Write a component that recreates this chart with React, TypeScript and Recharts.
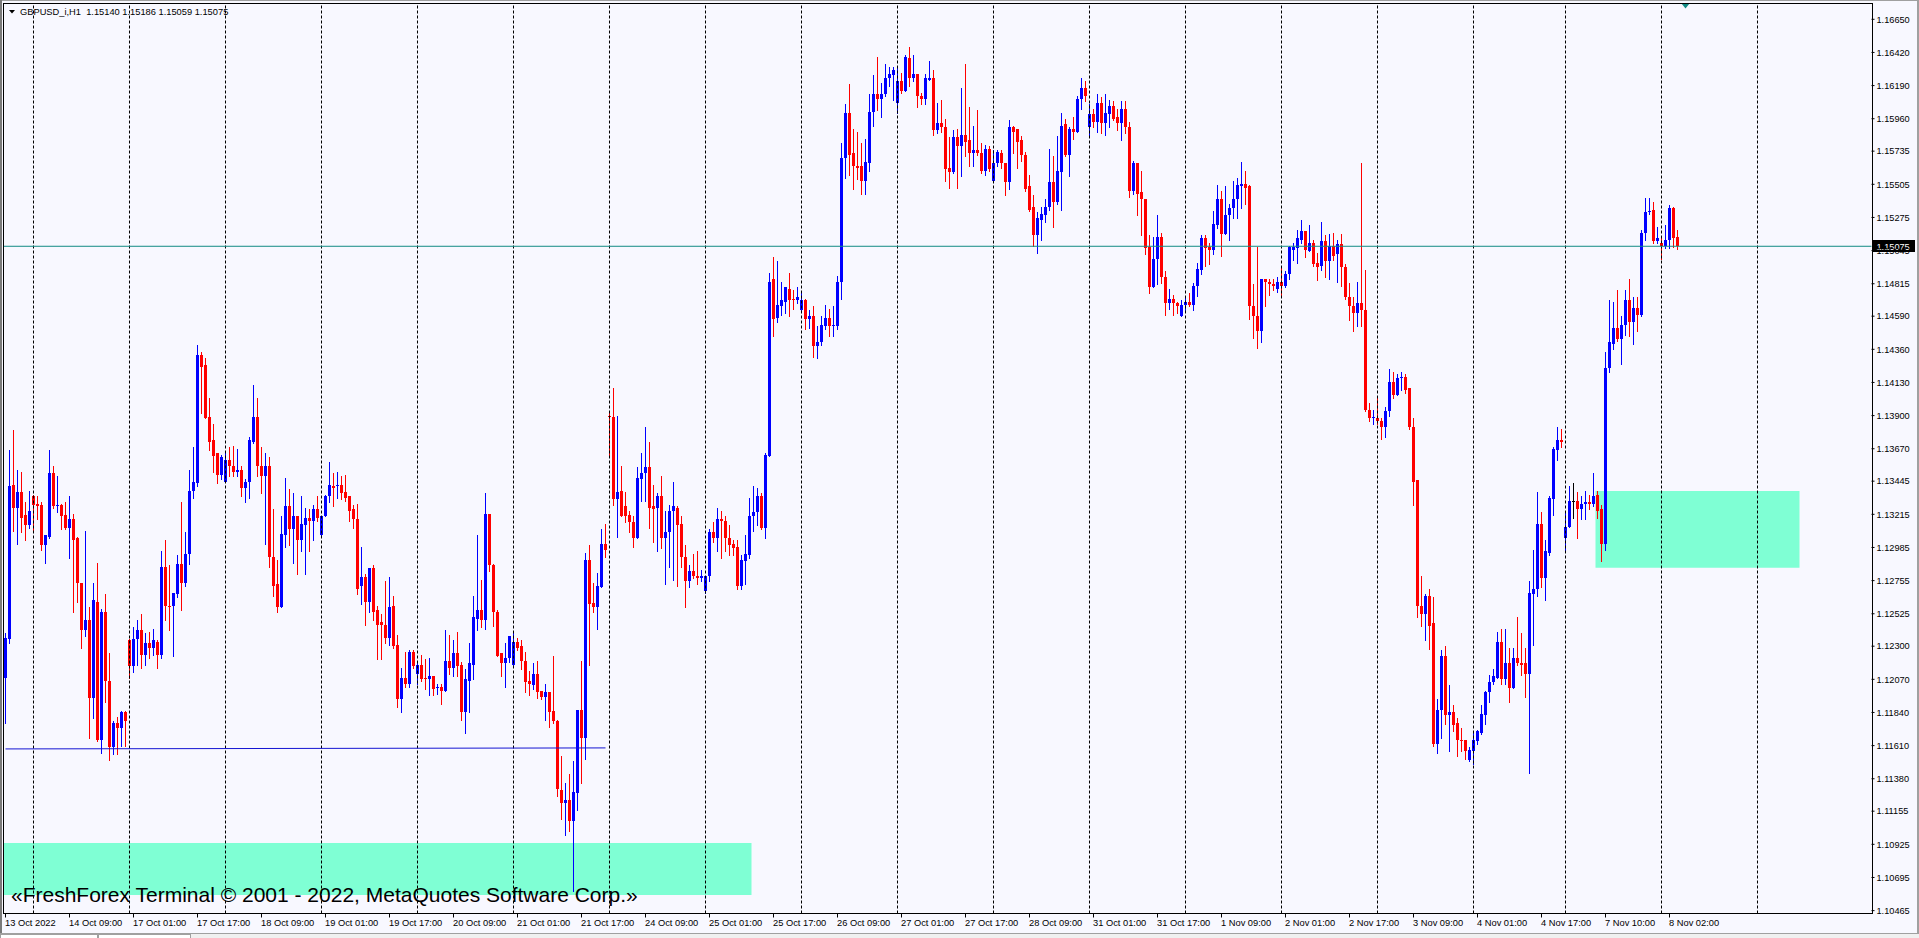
import React from "react";
import { ComposedChart, Bar, XAxis, YAxis, ReferenceLine, ReferenceArea, ReferenceDot } from "recharts";

// GBPUSD_i H1 candles, prices in 1e-4 units (11508 = 1.15080)
const OPEN = [
  11208,11235,11342,11326,11337,11321,11314,11334,11329,11328,11300,11306,11350,11327,11328,11321,11312,11318,11305,11274,
  11241,11248,11194,11261,11165,11254,11206,11160,11177,11173,11184,11234,11216,11235,11241,11224,11232,11229,11233,11224,
  11285,11258,11258,11266,11287,11274,11294,11338,11343,11432,11425,11389,11373,11364,11349,11344,11359,11355,11351,11352,
  11340,11344,11372,11389,11355,11348,11355,11292,11273,11257,11307,11327,11311,11320,11304,11314,11319,11317,11325,11307,
  11320,11334,11341,11341,11342,11337,11334,11325,11318,11272,11278,11261,11284,11255,11247,11245,11236,11258,11231,11193,
  11208,11204,11226,11211,11217,11208,11207,11209,11201,11202,11199,11220,11215,11225,11217,11184,11206,11217,11249,11255,
  11248,11322,11286,11254,11225,11218,11222,11217,11233,11230,11220,11206,11203,11211,11199,11195,11198,11185,11178,11130,
  11121,11123,11109,11128,11186,11166,11290,11260,11257,11271,11301,11390,11389,11332,11338,11327,11321,11316,11305,11346,
  11350,11354,11327,11326,11334,11305,11309,11324,11326,11315,11292,11275,11282,11279,11277,11268,11279,11309,11305,11318,
  11317,11305,11301,11299,11272,11289,11293,11320,11323,11334,11312,11362,11485,11458,11466,11469,11478,11471,11470,11463,
  11470,11457,11459,11438,11441,11452,11458,11452,11452,11483,11569,11600,11572,11563,11563,11553,11565,11601,11613,11610,
  11613,11624,11626,11607,11622,11615,11638,11624,11627,11612,11610,11623,11624,11588,11593,11590,11562,11559,11583,11577,
  11585,11581,11572,11574,11572,11560,11575,11553,11565,11572,11565,11552,11590,11589,11581,11571,11549,11535,11515,11526,
  11529,11535,11552,11538,11559,11592,11571,11589,11587,11610,11617,11590,11599,11594,11607,11593,11599,11605,11597,11593,
  11603,11590,11546,11565,11545,11540,11507,11479,11499,11514,11486,11468,11471,11468,11459,11467,11469,11467,11480,11491,
  11513,11507,11505,11522,11540,11516,11529,11534,11540,11549,11551,11549,11466,11459,11449,11485,11483,11481,11478,11483,
  11480,11488,11505,11506,11512,11518,11504,11510,11496,11494,11511,11497,11508,11502,11509,11493,11472,11466,11461,11468,
  11463,11394,11388,11388,11386,11382,11393,11413,11404,11416,11417,11409,11382,11345,11258,11252,11265,11246,11162,11186,
  11223,11182,11184,11177,11165,11165,11151,11157,11164,11170,11182,11198,11205,11208,11233,11207,11218,11201,11222,11218,
  11218,11211,11266,11270,11315,11277,11295,11332,11366,11373,11305,11313,11331,11331,11325,11329,11330,11329,11335,11325,
  11301,11423,11440,11451,11443,11453,11470,11455,11465,11460,11517,11531,11533,11511,11510,11508,11512,11534,11514,
];
const HIGH = [
  11239,11366,11380,11352,11351,11330,11338,11335,11334,11330,11307,11366,11355,11348,11329,11330,11334,11322,11306,11274,
  11310,11257,11274,11288,11256,11266,11225,11178,11181,11185,11185,11235,11243,11248,11252,11239,11240,11242,11234,11296,
  11304,11286,11267,11293,11330,11309,11352,11368,11439,11434,11430,11402,11384,11364,11363,11365,11368,11369,11367,11355,
  11346,11375,11411,11402,11368,11364,11361,11325,11290,11320,11347,11339,11336,11320,11334,11326,11325,11328,11334,11320,
  11335,11358,11350,11351,11348,11349,11334,11328,11329,11299,11280,11284,11286,11258,11252,11275,11278,11265,11238,11215,
  11226,11227,11227,11220,11224,11221,11222,11209,11204,11204,11241,11238,11234,11240,11219,11214,11232,11265,11307,11276,
  11336,11322,11287,11255,11225,11232,11237,11239,11236,11234,11226,11213,11218,11220,11199,11204,11198,11223,11179,11154,
  11135,11141,11150,11186,11220,11295,11300,11274,11281,11311,11315,11393,11409,11390,11355,11337,11324,11320,11354,11364,
  11382,11372,11342,11336,11348,11324,11328,11344,11327,11320,11300,11286,11294,11296,11283,11279,11311,11316,11326,11324,
  11320,11314,11304,11304,11293,11307,11333,11341,11340,11336,11364,11489,11500,11497,11483,11479,11489,11477,11479,11476,
  11471,11463,11466,11452,11459,11467,11464,11466,11487,11579,11606,11620,11589,11587,11579,11582,11613,11626,11639,11621,
  11634,11632,11632,11631,11628,11640,11646,11640,11627,11614,11627,11636,11630,11607,11609,11596,11583,11588,11589,11617,
  11634,11604,11591,11602,11579,11578,11577,11574,11574,11574,11565,11595,11591,11589,11584,11573,11557,11543,11531,11535,
  11540,11575,11570,11584,11600,11596,11590,11597,11612,11624,11622,11606,11603,11613,11611,11613,11609,11608,11603,11608,
  11608,11594,11567,11565,11560,11540,11515,11514,11529,11517,11490,11478,11474,11469,11470,11472,11475,11482,11496,11515,
  11515,11510,11532,11550,11546,11549,11537,11553,11555,11566,11560,11550,11481,11507,11485,11485,11485,11485,11486,11493,
  11490,11508,11510,11519,11526,11518,11522,11512,11503,11524,11515,11516,11517,11512,11516,11495,11482,11472,11483,11565,
  11491,11399,11394,11402,11388,11396,11422,11420,11419,11420,11419,11409,11388,11345,11279,11266,11270,11264,11193,11227,
  11230,11203,11189,11180,11173,11165,11160,11171,11172,11189,11199,11210,11214,11240,11242,11242,11229,11229,11250,11239,
  11229,11275,11297,11337,11323,11304,11334,11368,11382,11381,11323,11341,11343,11337,11334,11338,11335,11350,11338,11328,
  11434,11470,11469,11477,11459,11477,11485,11472,11472,11519,11541,11541,11538,11521,11514,11522,11536,11535,11518.6,
];
const LOW = [
  11177,11232,11310,11301,11309,11304,11312,11310,11318,11297,11288,11305,11326,11323,11311,11311,11291,11254,11261,11229,
  11237,11166,11180,11164,11156,11191,11151,11155,11155,11161,11161,11208,11212,11217,11215,11217,11222,11224,11215,11222,
  11248,11241,11223,11264,11255,11272,11287,11333,11341,11392,11388,11366,11351,11343,11346,11344,11348,11348,11348,11334,
  11330,11333,11371,11348,11336,11301,11285,11265,11254,11257,11299,11300,11288,11280,11296,11280,11296,11304,11317,11307,
  11320,11330,11327,11333,11332,11331,11317,11312,11266,11259,11245,11254,11248,11221,11221,11232,11231,11229,11188,11184,
  11202,11202,11215,11204,11206,11200,11196,11196,11197,11190,11199,11211,11209,11209,11179,11170,11184,11207,11241,11243,
  11242,11282,11244,11223,11209,11202,11219,11217,11227,11214,11198,11196,11200,11194,11193,11179,11174,11177,11126,11110,
  11099,11102,11060,11116,11135,11152,11217,11254,11242,11271,11292,11362,11328,11306,11320,11316,11309,11299,11305,11331,
  11331,11312,11302,11296,11298,11273,11285,11276,11272,11285,11257,11271,11277,11273,11275,11267,11275,11302,11296,11291,
  11296,11293,11293,11270,11270,11273,11291,11310,11314,11311,11305,11362,11445,11455,11460,11461,11459,11464,11468,11463,
  11450,11451,11431,11430,11439,11450,11445,11445,11450,11471,11555,11557,11547,11554,11544,11544,11560,11591,11602,11597,
  11612,11619,11609,11600,11614,11615,11619,11622,11604,11606,11606,11623,11585,11586,11587,11553,11548,11558,11548,11556,
  11570,11563,11563,11571,11558,11557,11560,11553,11563,11562,11543,11547,11572,11562,11567,11546,11532,11508,11503,11512,
  11524,11533,11521,11537,11533,11570,11556,11582,11587,11603,11608,11583,11590,11587,11586,11585,11590,11595,11588,11581,
  11586,11542,11544,11529,11515,11502,11475,11479,11481,11482,11460,11464,11460,11461,11459,11462,11466,11463,11473,11488,
  11494,11495,11502,11520,11501,11516,11512,11527,11527,11534,11537,11457,11444,11437,11441,11466,11474,11477,11476,11472,
  11479,11485,11498,11496,11510,11500,11504,11494,11484,11491,11486,11485,11498,11483,11480,11471,11456,11449,11452,11452,
  11393,11386,11384,11384,11374,11375,11390,11402,11404,11408,11406,11381,11328,11250,11244,11234,11228,11161,11156,11166,
  11176,11157,11171,11154,11157,11152,11150,11148,11162,11169,11176,11191,11204,11208,11204,11204,11191,11201,11217,11210,
  11195,11142,11231,11265,11271,11262,11293,11321,11359,11368,11296,11313,11319,11305,11318,11318,11325,11327,11319,11289,
  11297,11420,11436,11442,11426,11446,11445,11440,11449,11459,11512,11530,11510,11510,11499,11506,11506,11507,11505.9,
];
const CLOSE = [
  11236,11341,11326,11337,11319,11314,11324,11328,11327,11300,11307,11350,11327,11328,11320,11312,11318,11304,11274,11241,
  11248,11194,11262,11165,11254,11206,11160,11177,11173,11184,11178,11216,11235,11241,11224,11232,11229,11234,11224,11285,
  11258,11257,11267,11287,11274,11294,11338,11344,11432,11424,11388,11372,11362,11349,11361,11359,11355,11351,11352,11340,
  11344,11373,11389,11355,11348,11355,11292,11272,11257,11308,11327,11311,11320,11304,11315,11319,11317,11325,11319,11320,
  11334,11342,11340,11342,11336,11333,11324,11318,11270,11278,11261,11284,11254,11245,11245,11236,11257,11230,11193,11208,
  11204,11226,11216,11217,11207,11207,11209,11200,11202,11199,11220,11215,11225,11216,11184,11207,11218,11250,11255,11248,
  11322,11286,11254,11223,11218,11222,11237,11233,11229,11220,11205,11204,11211,11198,11195,11198,11184,11178,11131,11121,
  11123,11109,11129,11186,11166,11290,11259,11257,11272,11301,11297,11389,11332,11337,11320,11320,11316,11305,11347,11350,
  11354,11326,11325,11334,11305,11309,11324,11327,11314,11292,11275,11282,11279,11277,11279,11279,11309,11305,11318,11317,
  11305,11300,11298,11272,11290,11294,11320,11323,11334,11312,11363,11483,11457,11467,11470,11479,11470,11470,11472,11470,
  11457,11459,11438,11441,11453,11458,11452,11453,11483,11569,11600,11571,11563,11562,11553,11566,11601,11613,11610,11613,
  11624,11627,11630,11622,11615,11639,11624,11627,11612,11610,11624,11624,11588,11593,11590,11561,11559,11583,11577,11585,
  11580,11572,11574,11572,11560,11575,11561,11565,11573,11565,11552,11590,11587,11580,11571,11547,11533,11515,11527,11530,
  11535,11552,11538,11560,11591,11571,11589,11587,11610,11617,11612,11599,11594,11607,11593,11600,11605,11596,11593,11603,
  11590,11546,11565,11544,11540,11506,11479,11499,11514,11486,11468,11471,11468,11466,11467,11469,11467,11480,11492,11513,
  11506,11505,11523,11540,11516,11529,11534,11540,11550,11551,11548,11466,11459,11449,11485,11483,11481,11480,11483,11480,
  11488,11507,11507,11513,11518,11505,11510,11495,11493,11511,11497,11508,11501,11509,11493,11472,11466,11461,11468,11463,
  11394,11388,11389,11386,11382,11393,11413,11404,11416,11417,11408,11382,11344,11258,11252,11265,11244,11162,11186,11223,
  11182,11184,11175,11165,11164,11157,11158,11165,11171,11183,11198,11205,11209,11233,11207,11218,11201,11222,11218,11217,
  11211,11267,11270,11315,11277,11296,11333,11367,11373,11372,11313,11331,11331,11325,11329,11330,11329,11334,11324,11301,
  11423,11441,11451,11443,11453,11470,11455,11465,11460,11517,11531,11532,11511,11513,11508,11512,11534,11513,11507.5,
];

const TIME_LABELS = [
  "13 Oct 2022", "14 Oct 09:00", "17 Oct 01:00", "17 Oct 17:00", "18 Oct 09:00", "19 Oct 01:00", "19 Oct 17:00",
  "20 Oct 09:00", "21 Oct 01:00", "21 Oct 17:00", "24 Oct 09:00", "25 Oct 01:00", "25 Oct 17:00", "26 Oct 09:00",
  "27 Oct 01:00", "27 Oct 17:00", "28 Oct 09:00", "31 Oct 01:00", "31 Oct 17:00", "1 Nov 09:00", "2 Nov 01:00",
  "2 Nov 17:00", "3 Nov 09:00", "4 Nov 01:00", "4 Nov 17:00", "7 Nov 10:00", "8 Nov 02:00",
];
const LABEL_BARS = [0, 16, 32, 48, 64, 80, 96, 112, 128, 144, 160, 176, 192, 208, 224, 240, 256, 272, 288, 304, 320, 336, 352, 368, 384, 400, 416];
const GRID_BARS = [7, 31, 55, 79, 103, 127, 151, 175, 199, 223, 247, 271, 295, 319, 343, 367, 390, 414, 438];
const Y_TICKS = [
  1.1665, 1.1642, 1.1619, 1.1596, 1.15735, 1.15505, 1.15275, 1.15045, 1.14815, 1.1459, 1.1436, 1.1413, 1.139, 1.1367,
  1.13445, 1.13215, 1.12985, 1.12755, 1.12525, 1.123, 1.1207, 1.1184, 1.1161, 1.1138, 1.11155, 1.10925, 1.10695, 1.10465,
];
const SLOTS = 467;
const Y_MIN = 1.10445;
const Y_MAX = 1.167596;
const SUPPORT_LINE = [{ x: 0, y: 1.11587 }, { x: 150, y: 1.11594 }];
const ZONE_LOW = { x2: 186, y1: 1.10574, y2: 1.10935 };
const ZONE_HIGH = { x1: 398, x2: 448, y1: 1.12845, y2: 1.13377 };
const SHIFT_MARK_BAR = 420;

const FONT = '"Liberation Sans", Arial, sans-serif';
const BG = "#F8F8FF";
const UP = "#0000FF";
const DOWN = "#FF0000";
const TEAL = "#128A84";
const AQUA = "#7FFFD4";

const LAST = OPEN.length - 1;
const LAST_PRICE = CLOSE[LAST] / 1e4;

const rows = Array.from({ length: SLOTS }, (_, i) =>
  i < OPEN.length
    ? { i, o: OPEN[i] / 1e4, h: HIGH[i] / 1e4, l: LOW[i] / 1e4, c: CLOSE[i] / 1e4, range: [LOW[i] / 1e4, HIGH[i] / 1e4] }
    : { i, range: null }
);

const Candle = (props: any) => {
  const { x, y, width, height, payload } = props;
  if (!payload || payload.o == null || !isFinite(y) || !isFinite(height)) return <g />;
  const { o, h, l, c } = payload;
  const top = Math.min(y, y + height);
  const hh = Math.abs(height);
  const k = h - l > 0 ? hh / (h - l) : 0;
  const cx = Math.round(x + width / 2 - 0.5);
  const color = c > o ? UP : c < o ? DOWN : "#000";
  const wTop = Math.round(top);
  const wBot = Math.max(Math.round(top + hh), wTop + 1);
  const bTop = Math.round(top + (h - Math.max(o, c)) * k);
  let bBot = Math.round(top + (h - Math.min(o, c)) * k);
  if (bBot - bTop < 1) bBot = bTop + 1;
  return (
    <g>
      <rect x={cx} y={wTop} width={1} height={wBot - wTop + 1} fill={color} shapeRendering="crispEdges" />
      <rect x={cx - 1} y={bTop} width={3} height={bBot - bTop} fill={color} shapeRendering="crispEdges" />
    </g>
  );
};

const XTick = (props: any) => {
  const { x, y, payload } = props;
  const idx = LABEL_BARS.indexOf(payload.value);
  if (idx < 0) return <g />;
  return (
    <text x={x - 0.5} y={y} dy={6.6} fontSize={9.3} fontFamily={FONT} fill="#000" textAnchor="start">
      {TIME_LABELS[idx]}
    </text>
  );
};

const YTick = (props: any) => {
  const { x, y, payload } = props;
  return (
    <text x={x} y={y} dy={3.3} fontSize={9.2} fontFamily={FONT} fill="#000" textAnchor="start">
      {Number(payload.value).toFixed(5)}
    </text>
  );
};

const PriceTag = (props: any) => {
  const vb = props.viewBox || {};
  const right = (vb.x || 0) + (vb.width || 0);
  const yy = vb.y || 0;
  return (
    <g>
      <rect x={right + 0.5} y={Math.round(yy) - 6} width={43} height={12} fill="#000" />
      <text x={right + 5} y={yy} dy={3.3} fontSize={9.2} fontFamily={FONT} fill="#fff" textAnchor="start">
        {LAST_PRICE.toFixed(5)}
      </text>
    </g>
  );
};

const ShiftMark = (props: any) => {
  const { cx, cy } = props;
  if (!isFinite(cx)) return <g />;
  return <polygon points={`${cx - 4},${cy} ${cx + 4},${cy} ${cx},${cy + 5}`} fill={TEAL} />;
};

export default function App() {
  const title = `GBPUSD_i,H1  ${(OPEN[LAST] / 1e4).toFixed(5)} ${(HIGH[LAST] / 1e4).toFixed(5)} ${(LOW[LAST] / 1e4).toFixed(5)} ${(CLOSE[LAST] / 1e4).toFixed(5)}`;
  return (
    <div style={{ position: "absolute", left: 0, top: 0, width: 1919, height: 938, background: BG, overflow: "hidden", fontFamily: FONT }}>
      <ComposedChart
        width={1919}
        height={938}
        data={rows}
        margin={{ top: 3.5, right: 0, bottom: 0, left: 3.5 }}
        barCategoryGap={0}
        barGap={0}
      >
        <XAxis
          dataKey="i"
          type="category"
          ticks={LABEL_BARS}
          interval={0}
          height={24.5}
          axisLine={false}
          tickSize={4}
          tickLine={{ stroke: "#000" }}
          tick={(p: any) => <XTick {...p} />}
        />
        <YAxis
          orientation="right"
          type="number"
          domain={[Y_MIN, Y_MAX]}
          allowDataOverflow
          ticks={Y_TICKS}
          interval={0}
          width={47.5}
          axisLine={false}
          tickSize={3}
          tickLine={{ stroke: "#000" }}
          tick={(p: any) => <YTick {...p} />}
        />
        <ReferenceArea x2={ZONE_LOW.x2} y1={ZONE_LOW.y1} y2={ZONE_LOW.y2} fill={AQUA} fillOpacity={1} stroke="none" />
        <ReferenceArea x1={ZONE_HIGH.x1} x2={ZONE_HIGH.x2} y1={ZONE_HIGH.y1} y2={ZONE_HIGH.y2} fill={AQUA} fillOpacity={1} stroke="none" />
        {GRID_BARS.map((b) => (
          <ReferenceLine key={"g" + b} x={b} stroke="#000" strokeWidth={1} strokeDasharray="3 2" />
        ))}
        <ReferenceLine segment={SUPPORT_LINE} stroke="#1414D2" strokeWidth={1} ifOverflow="visible" />
        <Bar dataKey="range" isAnimationActive={false} shape={(p: any) => <Candle {...p} />} />
        <ReferenceLine y={LAST_PRICE} stroke={TEAL} strokeWidth={1} label={(p: any) => <PriceTag {...p} />} />
        <ReferenceDot x={SHIFT_MARK_BAR} y={Y_MAX} r={4} shape={(p: any) => <ShiftMark {...p} />} ifOverflow="visible" />
      </ComposedChart>
      <svg width={1919} height={938} style={{ position: "absolute", left: 0, top: 0, pointerEvents: "none" }}>
        <rect x={3.5} y={3.5} width={1869} height={910} fill="none" stroke="#000" strokeWidth={1} />
        <polygon points="9,10 15,10 12,13.5" fill="#000" />
        <text x={20} y={15} fontSize={9.3} fontFamily={FONT} fill="#000" style={{ whiteSpace: "pre" }}>
          {title}
        </text>
        <text x={11} y={902} fontSize={21} fontFamily={FONT} fill="#000">
          «FreshForex Terminal © 2001 - 2022, MetaQuotes Software Corp.»
        </text>
        <rect x={0} y={0} width={1919} height={1} fill="#A0A0A0" />
        <rect x={0} y={0} width={2} height={934} fill="#7A7A7A" />
        <rect x={1917} y={0} width={2} height={934} fill="#A0A0A0" />
        <rect x={0} y={933} width={1919} height={5} fill="#F0F0F0" />
        <rect x={0} y={933} width={1919} height={1} fill="#A0A0A0" />
        <rect x={0.5} y={934.5} width={97} height={4} fill="#FFFFFF" stroke="#A0A0A0" />
        <rect x={98.5} y={934.5} width={92} height={4} fill="#FFFFFF" stroke="#A0A0A0" />
      </svg>
    </div>
  );
}
